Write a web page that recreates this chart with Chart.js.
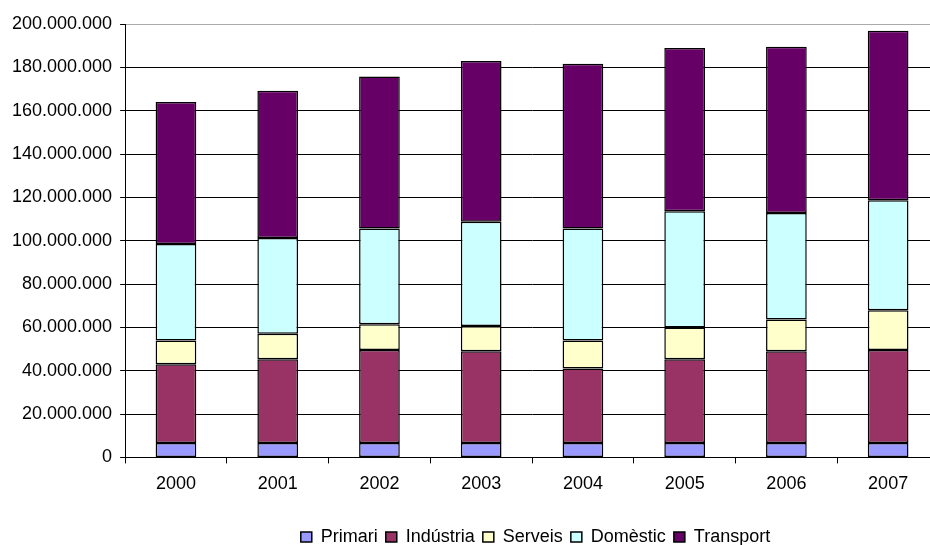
<!DOCTYPE html>
<html>
<head>
<meta charset="utf-8">
<script src="https://cdn.jsdelivr.net/npm/chart.js@4.4.0/dist/chart.umd.min.js"></script>
<style>
  html, body { margin: 0; padding: 0; background: #fff; overflow: hidden; }
  #wrap { width: 939px; height: 545px; }
</style>
</head>
<body>
<div id="wrap"><canvas id="grafic"></canvas></div>
<script>
// anys i consum per sector
var anys = ["2000", "2001", "2002", "2003", "2004", "2005", "2006", "2007"];
var primari   = [6600000, 6600000, 6600000, 6600000, 6600000, 6600000, 6600000, 6600000];
var industria = [36400000, 38700000, 43000000, 42400000, 34400000, 38700000, 42400000, 43000000];
var serveis   = [11000000, 11800000, 11800000, 11600000, 13000000, 14600000, 14600000, 18300000];
var domestic  = [44500000, 44200000, 44200000, 48100000, 51600000, 53700000, 49200000, 50800000];
var transport = [65500000, 67900000, 70200000, 74200000, 76100000, 75300000, 76700000, 78200000];
var eixY = { min: 0, max: 200000000, pas: 20000000 };

// format amb punts de milers
function punts(v) {
    return String(v).replace(/\B(?=(\d{3})+(?!\d))/g, ".");
}

// moure la llegenda (centrada sobre l'area del grafic)
var mouLlegenda = {
    id: "mouLlegenda",
    afterLayout: (chart) => {
        var lg = chart.legend;
        var dx = 64, dy = 15;
        lg.left += dx; lg.right += dx;
        lg.top += dy; lg.bottom += dy;
    }
};

function serie(nom, dades, color) {
    return {
        label: nom,
        data: dades,
        backgroundColor: color,
        borderColor: "#000",
        borderWidth: 1.5,
        borderSkipped: false,
        barPercentage: 0.4,
        categoryPercentage: 1
    };
}

Chart.defaults.font.family = "'Liberation Sans', Arial, sans-serif";
Chart.defaults.color = "#000";

var grafic = new Chart(document.getElementById("grafic"), {
    type: "bar",
    data: {
        labels: anys,
        datasets: [
            serie("Primari", primari, "#9999FF"),
            serie("Indústria", industria, "#993366"),
            serie("Serveis", serveis, "#FFFFCC"),
            serie("Domèstic", domestic, "#CCFFFF"),
            serie("Transport", transport, "#660066")
        ]
    },
    plugins: [mouLlegenda],
    options: {
        responsive: true,
        maintainAspectRatio: false,
        animation: false,
        layout: { padding: { left: 4, right: 0, top: 24, bottom: 4 } },
        plugins: {
            legend: {
                position: "bottom",
                labels: {
                    boxWidth: 11,
                    boxHeight: 10,
                    padding: 8,
                    font: { size: 18 },
                    color: "#000"
                }
            },
            tooltip: { enabled: false }
        },
        scales: {
            x: {
                stacked: true,
                grid: {
                    offset: true,
                    drawOnChartArea: false,
                    drawTicks: true,
                    tickLength: 6,
                    color: "#000"
                },
                border: { display: true, color: "#000", width: 1 },
                ticks: { font: { size: 18 }, color: "#000", padding: 10 }
            },
            y: {
                stacked: true,
                min: eixY.min,
                max: eixY.max,
                grid: {
                    color: (c) => c.tick && c.tick.value === eixY.max ? "#aaa" : "#000",
                    tickColor: "#000",
                    tickLength: 5,
                    lineWidth: 1
                },
                border: { display: true, color: "#000", width: 1 },
                ticks: {
                    stepSize: eixY.pas,
                    font: { size: 18 },
                    color: "#000",
                    padding: 8,
                    callback: (v) => punts(v)
                }
            }
        }
    }
});
</script>
</body>
</html>
